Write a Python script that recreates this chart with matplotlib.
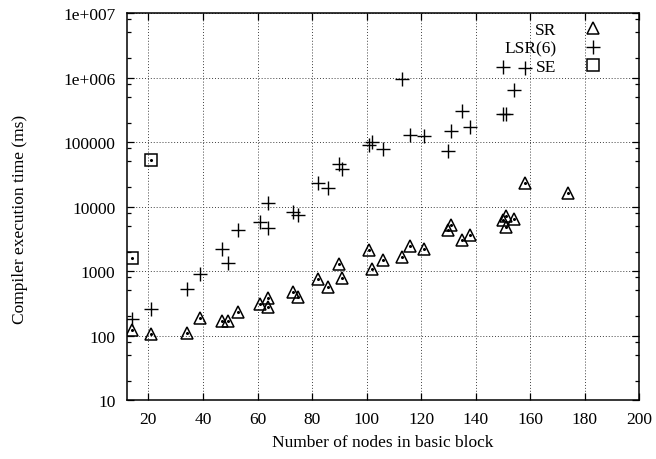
import numpy as np
import matplotlib.pyplot as plt
from matplotlib.ticker import FixedLocator, FixedFormatter

# -------------------------------------------------
# DATA
# -------------------------------------------------
sr_x = [14, 21, 34, 39, 47, 49, 53, 61, 64, 64, 73, 75, 82, 86, 90, 91,
        101, 102, 106, 113, 116, 121, 130, 131, 135, 138, 150, 151, 151,
        154, 158, 174]
sr_y = [121, 107, 111, 189, 168, 168, 232, 305, 388, 277, 470, 402, 741,
        569, 1270, 768, 2130, 1075, 1490, 1640, 2460, 2230, 4320, 5240,
        2980, 3570, 6110, 7140, 4880, 6410, 23100, 16100]

lsr_x = [14, 21, 34, 39, 47, 49, 53, 61, 64, 64, 73, 75, 82, 86, 90, 91,
         101, 102, 106, 113, 116, 121, 130, 131, 135, 138, 150, 151, 154,
         150, 158]
lsr_y = [178, 261, 535, 887, 2210, 1330, 4270, 5750, 11300, 4700, 8260,
         7410, 23100, 19300, 45000, 38500, 88700, 100000, 77800, 964000,
         130000, 124000, 71600, 148000, 303000, 171000, 269000, 269000,
         635000, 1470000, 1410000]

se_x = [14, 21]
se_y = [1600, 53100]

x_ticks = [20, 40, 60, 80, 100, 120, 140, 160, 180, 200]
y_ticks = [10, 100, 1000, 10000, 100000, 1000000, 10000000]
y_tick_labels = ["10", "100", "1000", "10000", "100000", "1e+006", "1e+007"]

# -------------------------------------------------
# PLOTTING
# -------------------------------------------------
plt.rcParams["font.family"] = ["Liberation Serif", "DejaVu Serif"]
plt.rcParams["font.size"] = 12.5

fig = plt.figure(figsize=(6.56, 4.6), dpi=100)
ax = fig.add_axes([0.193, 0.128, 0.7817, 0.8416])

ax.set_yscale("log")
ax.set_xlim(12, 200)
ax.set_ylim(10, 1e7)

# grid first so points sit on top
ax.grid(True, which="major", color="0.25", linestyle=(0, (1, 2)), linewidth=0.7)
ax.set_axisbelow(True)

ax.plot(sr_x, sr_y, linestyle="none", marker="^", markersize=9,
        markerfacecolor="none", markeredgecolor="black", markeredgewidth=1.1,
        label="SR")
ax.plot(lsr_x, lsr_y, linestyle="none", marker="+", markersize=10,
        color="black", markeredgewidth=1.0, label="LSR(6)")
ax.plot(se_x, se_y, linestyle="none", marker="s", markersize=8,
        markerfacecolor="none", markeredgecolor="black", markeredgewidth=1.1,
        label="SE")

# little centre dots, gnuplot style
ax.plot(sr_x + se_x, sr_y + se_y, linestyle="none", marker="o",
        markersize=1.2, color="black")

ax.xaxis.set_major_locator(FixedLocator(x_ticks))
ax.yaxis.set_major_locator(FixedLocator(y_ticks))
ax.yaxis.set_major_formatter(FixedFormatter(y_tick_labels))
minor = [m * d for d in y_ticks[:-1] for m in (2, 5, 8)]
ax.yaxis.set_minor_locator(FixedLocator(minor))
ax.xaxis.set_minor_locator(FixedLocator([]))

ax.tick_params(which="both", direction="in", top=True, right=True,
               width=0.9)
ax.tick_params(which="major", length=5)
ax.tick_params(which="minor", length=3)
ax.tick_params(axis="x", pad=8)
ax.tick_params(axis="y", pad=8)

for sp in ax.spines.values():
    sp.set_linewidth(1.1)

ax.set_xlabel("Number of nodes in basic block")
ax.set_ylabel("Compiler execution time (ms)")
ax.xaxis.set_label_coords(0.5, -0.088)
ax.yaxis.set_label_coords(-0.192, 0.47)

leg = ax.legend(loc="upper right", bbox_to_anchor=(0.953, 1.012),
                frameon=False, markerfirst=False, handlelength=1.0,
                handletextpad=1.6, labelspacing=0.12, borderpad=0.3)

fig.savefig("out.png", dpi=100)
